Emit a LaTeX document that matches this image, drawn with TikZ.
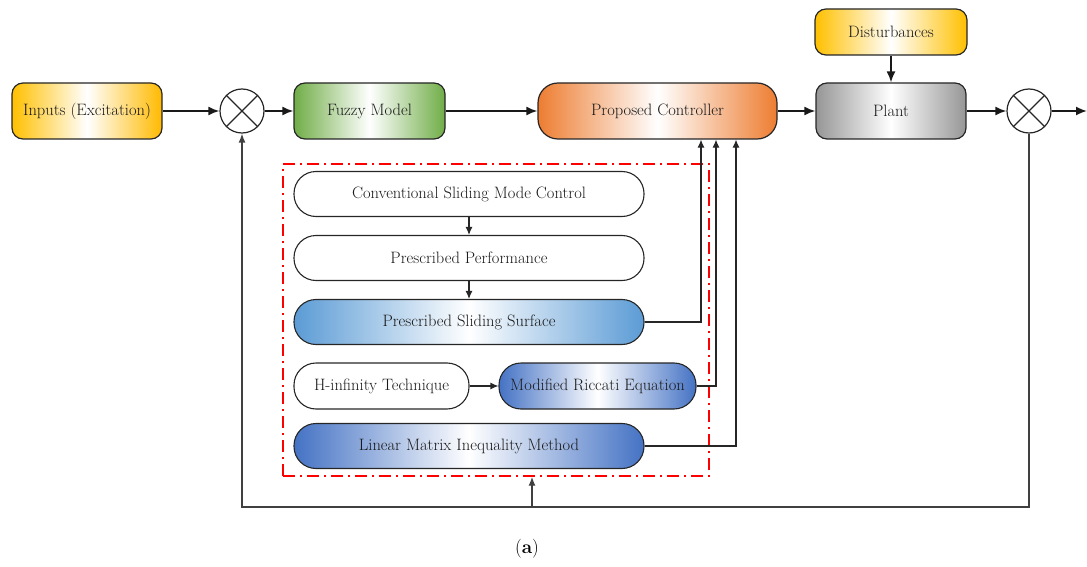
\documentclass[tikz,border=0pt]{standalone}
\usepackage{tikz}
\usepackage{xcolor}
\usetikzlibrary{arrows.meta}

\definecolor{ylw}{RGB}{255,192,0}
\definecolor{grn}{RGB}{112,173,71}
\definecolor{org}{RGB}{237,125,49}
\definecolor{gry}{RGB}{150,150,150}
\definecolor{lblu}{RGB}{91,155,213}
\definecolor{dblu}{RGB}{68,114,196}

\begin{document}
\begin{tikzpicture}[x=1pt, y=-1pt,
  blk/.style={draw=black!85, line width=1.2pt, rounded corners=11pt, minimum width=150pt, minimum height=56pt, text=black!90, font=\fontsize{16.5}{19}\selectfont},
  pill/.style={draw=black!85, line width=1.1pt, rounded corners=22pt, minimum height=45pt, text=black!90, font=\fontsize{16.5}{19}\selectfont},
  sum/.style={draw=black!85, circle, line width=1.2pt, minimum size=44pt, path picture={\draw[line width=1.2pt, black!85] (path picture bounding box.north west) -- (path picture bounding box.south east) (path picture bounding box.north east) -- (path picture bounding box.south west);}},
  arr/.style={-{Latex[length=11pt,width=9pt]}, line width=1.8pt, black!90},
  sarr/.style={-{Latex[length=8pt,width=7pt]}, line width=1.1pt, black!85},
  fb/.style={line width=1.4pt, black!75}
]
  \useasboundingbox (0,0) rectangle (1087,567);

  % main loop
  \node[blk, left color=ylw, right color=ylw!90!orange, middle color=white] (inp) at (87,111) {Inputs (Excitation)};
  \node[sum] (sum1) at (242,111) {};
  \node[blk, left color=grn, right color=grn, middle color=white, minimum width=151pt] (fuzzy) at (369.5,111) {Fuzzy Model};
  \node[blk, left color=org, right color=org, middle color=white, minimum width=239pt, rounded corners=20pt] (ctrl) at (657.5,111) {Proposed Controller};
  \node[blk, left color=gry, right color=gry, middle color=white] (plant) at (891,111) {Plant};
  \node[blk, left color=ylw, right color=ylw, middle color=white, minimum width=152pt, minimum height=46pt] (dist) at (891,32) {Disturbances};
  \node[sum] (sum2) at (1029,111) {};
  \coordinate (out) at (1087,111);

  % red frame
  \node[draw=red, line width=1.4pt, dash pattern=on 12pt off 5pt on 2pt off 5pt, minimum width=426pt, minimum height=312pt] (frame) at (496,320) {};

  % inner blocks
  \node[pill, minimum width=350pt] (csmc) at (469,194) {Conventional Sliding Mode Control};
  \node[pill, minimum width=350pt] (pp) at (469,258) {Prescribed Performance};
  \node[pill, minimum width=350pt, left color=lblu, right color=lblu, middle color=white] (pss) at (469,322) {Prescribed Sliding Surface};
  \node[pill, minimum width=175pt, minimum height=46pt] (hinf) at (381.5,386) {H-infinity Technique};
  \node[pill, minimum width=197pt, minimum height=46pt, inner xsep=2pt, left color=dblu, right color=dblu, middle color=white] (mre) at (597.5,386) {Modified Riccati Equation};
  \node[pill, minimum width=350pt, left color=dblu, right color=dblu, middle color=white] (lmi) at (469,446) {Linear Matrix Inequality Method};

  \node[font=\fontsize{19}{22}\selectfont] (cap) at (527,549) {(\textbf{a})};

  % forward path
  \draw[arr] (inp) -- (sum1);
  \draw[arr] (sum1) -- (fuzzy);
  \draw[arr] (fuzzy) -- (ctrl);
  \draw[arr] (ctrl) -- (plant);
  \draw[arr] (dist) -- (plant);
  \draw[arr] (plant) -- (sum2);
  \draw[arr] (sum2) -- (out);

  % inner connections
  \draw[sarr] (csmc) -- (pp);
  \draw[sarr] (pp) -- (pss);
  \draw[sarr] (hinf) -- (mre);
  \draw[sarr] (pss.east) -| ([xshift=43.5pt]ctrl.south);
  \draw[sarr] (mre.east) -| ([xshift=58.5pt]ctrl.south);
  \draw[sarr] (lmi.east) -| ([xshift=78.5pt]ctrl.south);

  % feedback
  \coordinate (fbr) at (1029,507);
  \coordinate (fbl) at (242,507);
  \coordinate (fbm) at (532,507);
  \draw[fb, -{Latex[length=9pt,width=7pt]}] (sum2.south) -- (fbr) -- (fbl) -- (sum1.south);
  \draw[fb, -{Latex[length=9pt,width=7pt]}] (fbm) -- (fbm |- frame.south);
\end{tikzpicture}
\end{document}
